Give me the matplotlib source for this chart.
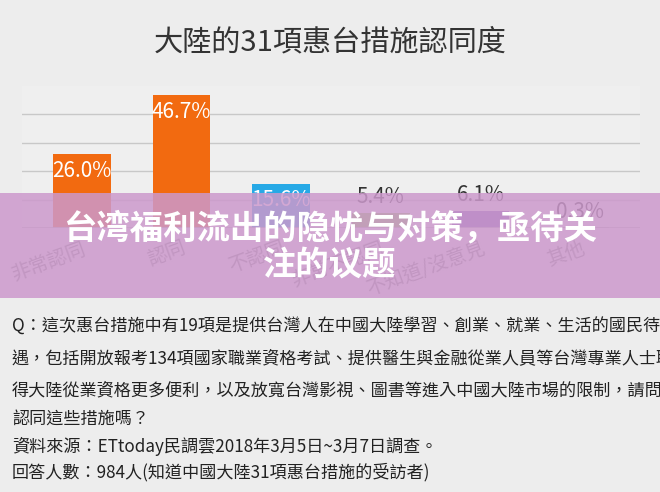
import matplotlib
matplotlib.use("Agg")
import matplotlib.pyplot as plt
from matplotlib.patches import Rectangle

plt.rcParams['font.family'] = ['Noto Sans CJK TC', 'DejaVu Sans']

categories = ['非常認同', '認同', '不認同', '非常不認同', '不知道/沒意見', '其他']
values = [26.0, 46.7, 15.6, 5.4, 6.1, 0.3]
colors = ['#F26A10', '#F26A10', '#27A9E6', '#8BC34A', '#7B5BB8', '#9E9E9E']
labels = ['26.0%', '46.7%', '15.6%', '5.4%', '6.1%', '0.3%']
title = '大陸的31項惠台措施認同度'
notes = ['Q：這次惠台措施中有19項是提供台灣人在中國大陸學習、創業、就業、生活的國民待',
         '遇，包括開放報考134項國家職業資格考試、提供醫生與金融從業人員等台灣專業人士取',
         '得大陸從業資格更多便利，以及放寬台灣影視、圖書等進入中國大陸市場的限制，請問您',
         '認同這些措施嗎？',
         '資料來源：ETtoday民調雲2018年3月5日~3月7日調查。',
         '回答人數：984人(知道中國大陸31項惠台措施的受訪者)']
banner = ['台湾福利流出的隐忧与对策，亟待关', '注的议题']

W, H = 660, 492
fig = plt.figure(figsize=(6.6, 4.92), dpi=100)
fig.patch.set_facecolor('#EDEDED')

ax = fig.add_axes([22/W, 1-228/H, 618/W, 142/H])
ax.set_facecolor('#EFEFEF')
x = range(len(values))
ax.bar(x, values, width=0.58, color=colors, zorder=3)
ax.set_ylim(0, 50)
ax.set_xlim(-0.6, len(values)-0.4)
ax.set_yticks([0, 10, 20, 30, 40])
ax.yaxis.grid(True, color='#C8C8C8', lw=1, zorder=0)
ax.tick_params(left=False, bottom=False, labelleft=False)
for s in ax.spines.values():
    s.set_visible(False)
ax.axhline(0, color='#BBBBBB', lw=1.2, zorder=4)
ax.set_xticks(list(x))
ax.set_xticklabels(categories, rotation=20, ha='right', rotation_mode='anchor',
                   fontsize=14, color='#888888')
for i, (v, lab) in enumerate(zip(values, labels)):
    if v > 10:
        ax.text(i, v - 2, lab, ha='center', va='top', fontsize=15, color='white', zorder=5)
    else:
        ax.text(i, v + 1.5, lab, ha='center', va='bottom', fontsize=15, color='#333333', zorder=5)

fig.text(330/W, 1-42/H, title, ha='center', va='center', fontsize=21, color='#333333')

ys = [327, 358, 390, 420, 446, 472]
for t, y in zip(notes, ys):
    fig.text(12/W, 1-y/H, t, ha='left', va='center', fontsize=12.3, color='#222222')

fig.patches.append(Rectangle((0, 1-298/H), 1, 105/H, transform=fig.transFigure,
                             facecolor='#CC99CC', alpha=0.85, zorder=10))
for t, y in zip(banner, [228, 265]):
    fig.text(330/W, 1-y/H, t, ha='center', va='center', fontsize=24, color='white',
             fontweight='bold', zorder=11, family=['Noto Sans CJK SC', 'DejaVu Sans'])

fig.savefig('out.png', dpi=100, facecolor=fig.get_facecolor())
